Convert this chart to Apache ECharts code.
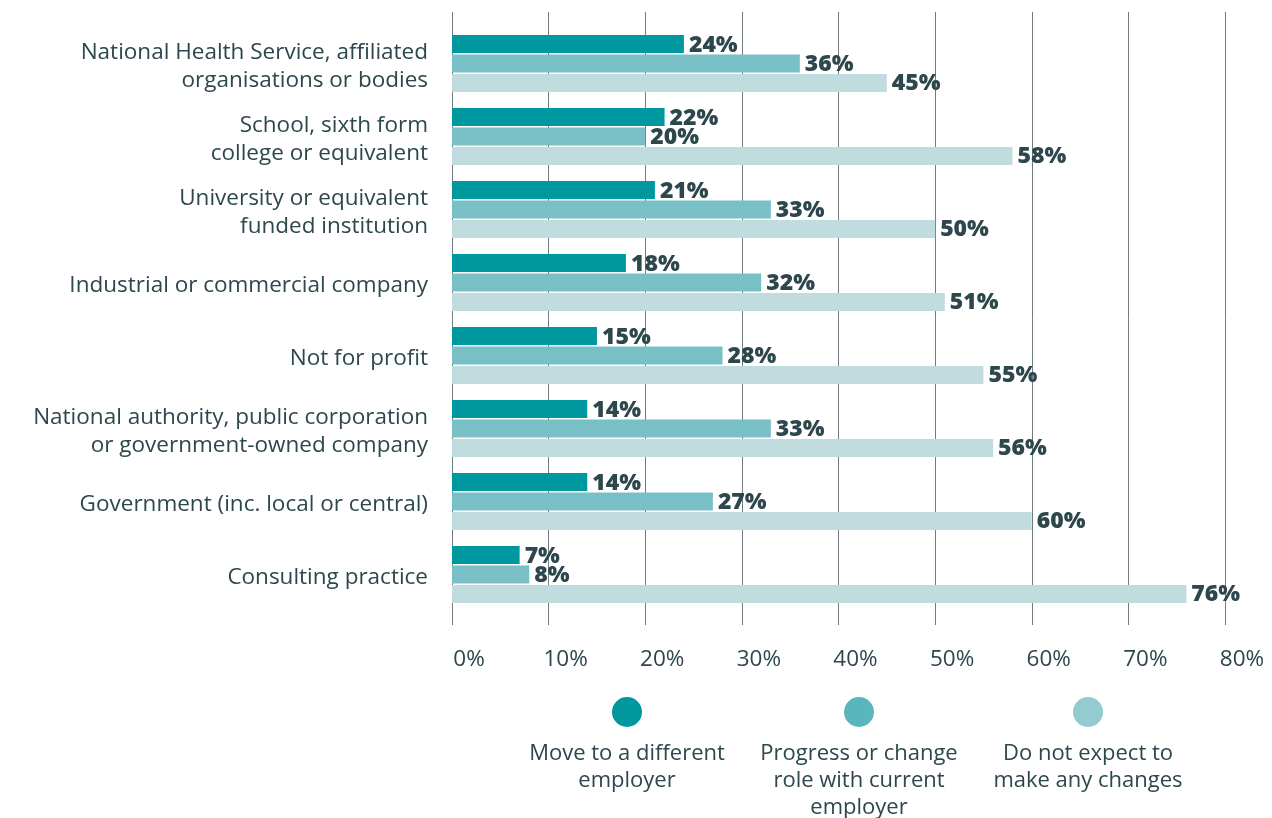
<!DOCTYPE html>
<html>
<head>
<meta charset="utf-8">
<style>
  html, body { margin: 0; padding: 0; background: #ffffff; }
  #chart { width: 1272px; height: 818px; }
</style>
<script src="https://cdn.jsdelivr.net/npm/echarts@6/dist/echarts.min.js"></script>
</head>
<body>
<div id="chart"></div>
<script>
// Employer sectors, listed top to bottom
const categories = [
  'National Health Service, affiliated\norganisations or bodies',
  'School, sixth form\ncollege or equivalent',
  'University or equivalent\nfunded institution',
  'Industrial or commercial company',
  'Not for profit',
  'National authority, public corporation\nor government-owned company',
  'Government (inc. local or central)',
  'Consulting practice'
];

// Share of respondents (%) per plan
const moveEmployer   = [24, 22, 21, 18, 15, 14, 14, 7];
const progressRole   = [36, 20, 33, 32, 28, 33, 27, 8];
const noChanges      = [45, 58, 50, 51, 55, 56, 60, 76];

const seriesNames = [
  'Move to a different employer',
  'Progress or change role with current employer',
  'Do not expect to make any changes'
];
const legendLines = [
  'Move to a different\nemployer',
  'Progress or change\nrole with current\nemployer',
  'Do not expect to\nmake any changes'
];

const xTicks = [0, 10, 20, 30, 40, 50, 60, 70, 80];

const barColors    = ['#00989f', '#79c0c6', '#c1dcdf'];
const legendColors = ['#00979f', '#5ab6bd', '#93cbd0'];
const textColor = '#2d474c';
const font = '"Open Sans", Lato, sans-serif';

const chart = echarts.init(document.getElementById('chart'), null, { renderer: 'canvas' });

const legendCenters = [627, 859, 1088];

function barSeries(i, data) {
  return {
    name: seriesNames[i],
    type: 'bar',
    xAxisIndex: 0,
    yAxisIndex: 0,
    data: data,
    barWidth: 18,
    barGap: '8%',
    itemStyle: { color: barColors[i] },
    label: {
      show: true,
      position: 'right',
      distance: 5,
      offset: [0, 1],
      formatter: '{c}%',
      color: textColor,
      fontFamily: font,
      fontWeight: 800,
      fontSize: 23
    },
    emphasis: { disabled: true },
    animation: false
  };
}

// Category labels: a thin spacer line on top nudges each block slightly down
function categoryLabel(value) {
  return '{s| }\n' + value.split('\n').map(line => '{a|' + line + '}').join('\n');
}

const option = {
  backgroundColor: '#ffffff',
  animation: false,
  grid: [
    { left: 452, right: 47, top: 27, height: 584 },
    { left: 452, right: 47, top: 12, height: 613 }
  ],
  xAxis: [
    {
      gridIndex: 0, type: 'value', min: 0, max: 80, interval: 10,
      show: false
    },
    {
      gridIndex: 1, type: 'value', min: xTicks[0], max: xTicks[xTicks.length - 1], interval: 10,
      position: 'bottom',
      axisLine: { show: false },
      axisTick: { show: false },
      splitLine: { show: true, lineStyle: { color: '#6f7d80', width: 1 } },
      axisLabel: {
        formatter: '{value}%',
        color: textColor,
        fontFamily: font,
        fontSize: 22.5,
        margin: 23,
        align: 'center',
        padding: [0, 0, 0, 34]
      }
    }
  ],
  yAxis: [
    {
      gridIndex: 0, type: 'category', data: categories, inverse: true,
      axisLine: { show: false },
      axisTick: { show: false },
      splitLine: { show: false },
      axisLabel: {
        margin: 24,
        align: 'right',
        verticalAlign: 'middle',
        formatter: categoryLabel,
        rich: {
          s: { fontSize: 1, lineHeight: 7 },
          a: {
            color: textColor,
            fontFamily: font,
            fontSize: 22.5,
            lineHeight: 28,
            align: 'right'
          }
        }
      }
    },
    {
      gridIndex: 1, type: 'value', show: false, min: 0, max: 1
    }
  ],
  legend: seriesNames.map((name, i) => ({
    data: [{ name: name, itemStyle: { color: legendColors[i] } }],
    left: legendCenters[i] - 15,
    top: 697,
    padding: 0,
    icon: 'circle',
    itemWidth: 30,
    itemHeight: 30,
    formatter: () => '',
    selectedMode: false,
    textStyle: { fontSize: 1 }
  })),
  graphic: legendLines.map((txt, i) => ({
    type: 'text',
    x: legendCenters[i],
    y: 740,
    style: {
      text: txt,
      align: 'center',
      verticalAlign: 'top',
      fill: textColor,
      font: '22px ' + font,
      lineHeight: 27
    }
  })),
  series: [
    barSeries(0, moveEmployer),
    barSeries(1, progressRole),
    barSeries(2, noChanges)
  ]
};

chart.setOption(option);
</script>
</body>
</html>
